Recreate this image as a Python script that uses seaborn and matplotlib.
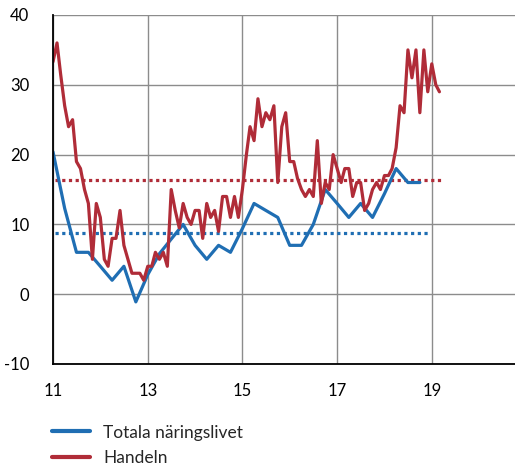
import numpy as np
import pandas as pd
import matplotlib
matplotlib.use("Agg")
import matplotlib.pyplot as plt
import matplotlib.dates as mdates
from matplotlib.lines import Line2D
import seaborn as sns

# ---- data ----
series_names = ["Totala näringslivet", "Handeln"]
series_colors = ["#1f6eb3", "#b02c38"]

blue_start = "2011-01-01"   # quarterly
blue_values = [20.4, 12.3, 6, 6, 4, 2, 4, -1.1, 2.8, 5.8, 7.9, 10, 7, 5, 7, 6,
               9.4, 13, 12, 11, 7, 7, 10, 15, 13, 11, 13, 11, 14.4, 18, 16, 16]

red_start = "2011-01-01"    # monthly
red_values = [33.3, 36, 31.5, 27, 24, 25, 19, 18, 15, 13,
              5, 13, 11, 5, 4, 8, 8, 12, 7, 5,
              3, 3, 3, 2, 4, 4, 6, 5, 6, 4,
              15, 12, 9.5, 13, 11, 10, 12, 12, 8, 13,
              11, 12, 9, 14, 14, 11, 14, 11, 15, 20,
              24, 22, 28, 24, 26, 25, 27, 16, 24, 26,
              19, 19, 16.6, 15, 14, 15, 14, 22, 13, 16,
              15, 20, 18, 16, 18, 18, 14, 16, 16, 12,
              13, 15, 16, 15, 17, 17, 18, 21, 27, 26,
              35, 31, 35, 26, 35, 29, 33, 30, 29]

avg_values = [8.8, 16.4]
avg_spans = [("2011-01-15", "2018-12-15"), ("2011-01-15", "2019-03-10")]

x_tick_years = [2011, 2013, 2015, 2017, 2019]
y_ticks = [-10, 0, 10, 20, 30, 40]
x_range = ("2011-01-01", "2020-10-04")

# ---- frames ----
blue_df = pd.DataFrame({
    "date": pd.date_range(blue_start, periods=len(blue_values), freq="QS"),
    "value": blue_values, "series": series_names[0]})
red_df = pd.DataFrame({
    "date": pd.date_range(red_start, periods=len(red_values), freq="MS"),
    "value": red_values, "series": series_names[1]})
df = pd.concat([blue_df, red_df], ignore_index=True)

avg_rows = []
for name, val, (s, e) in zip(series_names, avg_values, avg_spans):
    avg_rows.append({"date": pd.Timestamp(s), "value": val, "series": name})
    avg_rows.append({"date": pd.Timestamp(e), "value": val, "series": name})
avg_df = pd.DataFrame(avg_rows)

# ---- plot ----
sns.set_theme(style="white")
plt.rcParams["font.family"] = ["Lato", "DejaVu Sans"]
plt.rcParams["axes.unicode_minus"] = False

fig = plt.figure(figsize=(5.15, 4.70), dpi=100)
ax = fig.add_axes([53 / 515, 1 - 364 / 470, 1 - 53 / 515, (364 - 15) / 470])

palette = dict(zip(series_names, series_colors))
sns.lineplot(data=avg_df, x="date", y="value", hue="series", palette=palette,
             ax=ax, legend=False, linewidth=2.3, linestyle=(0, (1, 1.1)))
sns.lineplot(data=df, x="date", y="value", hue="series", palette=palette,
             ax=ax, legend=False, linewidth=2.3, zorder=3)

ax.set_xlim(pd.Timestamp(x_range[0]), pd.Timestamp(x_range[1]))
ax.set_ylim(y_ticks[0], y_ticks[-1])
ax.set_yticks(y_ticks)
ax.set_xticks([pd.Timestamp(f"{y}-01-01") for y in x_tick_years])
ax.xaxis.set_major_formatter(mdates.DateFormatter("%y"))
ax.set_xlabel("")
ax.set_ylabel("")

ax.grid(True, color="#8c8c8c", linewidth=1.0)
ax.set_axisbelow(True)
for side in ["top", "right"]:
    ax.spines[side].set_visible(False)
for side in ["left", "bottom"]:
    ax.spines[side].set_visible(True)
    ax.spines[side].set_color("black")
    ax.spines[side].set_linewidth(1.3)
    ax.spines[side].set_zorder(4)

ax.tick_params(axis="both", length=0, labelsize=12, colors="black")
ax.tick_params(axis="y", pad=17)
ax.tick_params(axis="x", pad=14)

handles = [Line2D([0], [0], color=c, linewidth=3) for c in series_colors]
fig.legend(handles, series_names, loc="lower left",
           bbox_to_anchor=(45 / 515, -3 / 470), frameon=False,
           fontsize=12.5, handlelength=2.2, handletextpad=0.75,
           labelspacing=0.55, borderaxespad=0)

fig.savefig("out.png", dpi=100)
